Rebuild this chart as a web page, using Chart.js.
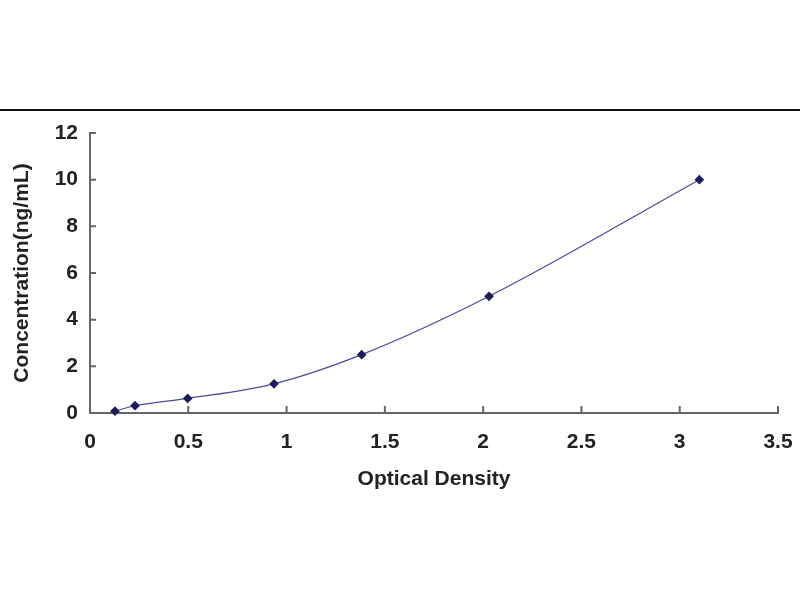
<!DOCTYPE html>
<html>
<head>
<meta charset="utf-8">
<script src="https://cdn.jsdelivr.net/npm/chart.js@4.4.1/dist/chart.umd.min.js"></script>
<style>
  html, body { margin: 0; padding: 0; background: #fff; }
  #wrap { position: relative; width: 800px; height: 600px; }
  #topline { position: absolute; left: 0; top: 109px; width: 800px; height: 2px; background: #111; }
  canvas { position: absolute; left: 0; top: 0; }
</style>
</head>
<body>
<div id="wrap">
  <canvas id="curva" width="800" height="600"></canvas>
  <div id="topline"></div>
</div>
<script>
// Curva estándar (lectura del gráfico)
const opticalDensity = [0.127, 0.229, 0.497, 0.936, 1.382, 2.03, 3.10];
const concentration = [0.078, 0.312, 0.625, 1.25, 2.5, 5, 10];
const xTitle = 'Optical Density';
const yTitle = 'Concentration(ng/mL)';

const puntos = opticalDensity.map((x, i) => ({ x: x, y: concentration[i] }));

// Marcas de escala hacia dentro del área del gráfico
const ticksInside = {
  id: 'ticksInside',
  afterDatasetsDraw(chart) {
    const ctx = chart.ctx;
    const sx = chart.scales.x;
    const sy = chart.scales.y;
    ctx.save();
    ctx.strokeStyle = '#666';
    ctx.lineWidth = 2;
    ctx.beginPath();
    sx.ticks.forEach(t => {
      const px = sx.getPixelForValue(t.value);
      ctx.moveTo(px, sy.bottom);
      ctx.lineTo(px, sy.bottom - 7);
    });
    sy.ticks.forEach(t => {
      const py = sy.getPixelForValue(t.value);
      ctx.moveTo(sx.left, py);
      ctx.lineTo(sx.left + 6, py);
    });
    ctx.stroke();
    ctx.restore();
  }
};

const fuente = { family: 'Liberation Sans, Arial, sans-serif', size: 21, weight: 'bold' };

new Chart(document.querySelector('#curva'), {
  type: 'scatter',
  data: {
    datasets: [{
      data: puntos,
      showLine: true,
      cubicInterpolationMode: 'monotone',
      borderColor: '#4a4a9a',
      borderWidth: 1.2,
      pointStyle: 'rectRot',
      pointRadius: 4,
      pointBackgroundColor: '#1c1c5a',
      pointBorderColor: '#1c1c5a',
      clip: false
    }]
  },
  options: {
    responsive: false,
    animation: false,
    layout: { padding: { left: 0, top: 133, right: 22, bottom: 0 } },
    plugins: { legend: { display: false }, tooltip: { enabled: false } },
    scales: {
      x: {
        type: 'linear',
        min: 0,
        max: 3.5,
        ticks: {
          stepSize: 0.5, color: '#222', font: fuente, padding: 17, maxRotation: 0,
          callback: (v) => String(v)
        },
        grid: { display: false, drawTicks: false },
        border: { display: true, color: '#666', width: 2 },
        title: { display: true, text: xTitle, color: '#222', font: fuente, padding: { top: 0, bottom: 108 } },
        afterFit: (scale) => {
          scale.height = 187;
          scale.paddingLeft = 0;
          scale.paddingRight = 0;
        }
      },
      y: {
        min: 0,
        max: 12,
        ticks: { stepSize: 2, color: '#222', font: fuente, padding: 12 },
        grid: { display: false, drawTicks: false },
        border: { display: true, color: '#666', width: 2 },
        title: { display: true, text: yTitle, color: '#222', font: fuente, padding: { top: 10, bottom: 0 } },
        afterFit: (scale) => { scale.width = 90; }
      }
    }
  },
  plugins: [ticksInside]
});
</script>
</body>
</html>
